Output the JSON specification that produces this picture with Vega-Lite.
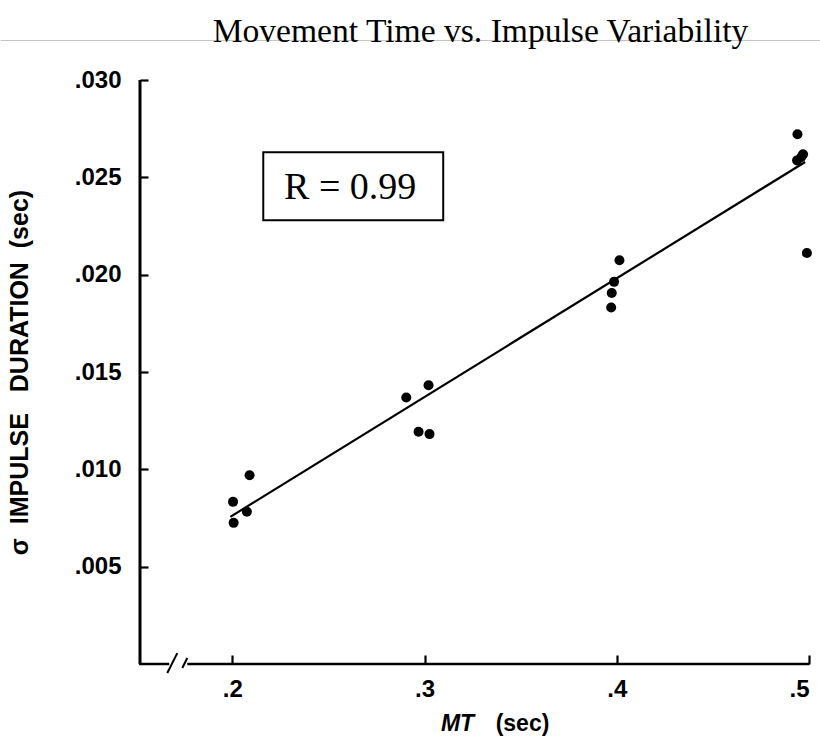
{
  "$schema": "https://vega.github.io/schema/vega-lite/v6.json",
  "width": 669,
  "height": 584,
  "autosize": "none",
  "padding": {"left": 140, "top": 80, "right": 11, "bottom": 72},
  "background": "white",
  "config": {"view": {"stroke": null}},
  "title": {"text": "Movement Time vs. Impulse Variability", "font": "Liberation Serif", "fontSize": 33.6, "fontWeight": "normal", "color": "#000000", "anchor": "middle", "frame": "group", "dx": 6, "dy": 35, "offset": -1, "baseline": "alphabetic"},
  "resolve": {"axis": {"x": "independent"}},
  "datasets": {
    "points": [
      {"mt": 0.2007, "sd": 0.00725},
      {"mt": 0.2004, "sd": 0.00833},
      {"mt": 0.2076, "sd": 0.00782},
      {"mt": 0.2090, "sd": 0.00970},
      {"mt": 0.2905, "sd": 0.01369},
      {"mt": 0.3021, "sd": 0.01432},
      {"mt": 0.2969, "sd": 0.01193},
      {"mt": 0.3026, "sd": 0.01181},
      {"mt": 0.3971, "sd": 0.01831},
      {"mt": 0.3974, "sd": 0.01906},
      {"mt": 0.3986, "sd": 0.01963},
      {"mt": 0.4014, "sd": 0.02074},
      {"mt": 0.4940, "sd": 0.02721},
      {"mt": 0.4969, "sd": 0.02618},
      {"mt": 0.4938, "sd": 0.02587},
      {"mt": 0.4959, "sd": 0.02603},
      {"mt": 0.4989, "sd": 0.02111}
    ],
    "fit": [
      {"mt": 0.199, "sd": 0.00756},
      {"mt": 0.498, "sd": 0.02579}
    ],
    "one": [{"k": 1}]
  },
  "layer": [
    {
      "data": {"name": "one"},
      "mark": {"type": "rule", "color": "#c4c4c4", "strokeWidth": 1},
      "encoding": {
        "x": {"datum": 0.0795, "type": "quantitative", "axis": null},
        "x2": {"datum": 0.5057},
        "y": {"datum": 0.03203, "type": "quantitative"}
      }
    },
    {
      "data": {"name": "points"},
      "mark": {"type": "circle", "size": 100, "color": "#000000", "opacity": 1},
      "encoding": {
        "x": {"field": "mt", "type": "quantitative", "scale": {"domain": [0.152, 0.5], "nice": false, "zero": false},
          "axis": {"orient": "bottom", "offset": -9, "values": [0.2, 0.3, 0.4, 0.5], "labelExpr": "substring(format(datum.value, '.1f'), 1)", "domain": false, "grid": false,
            "tickColor": "#000000", "tickWidth": 2.2, "tickSize": 9, "labelPadding": 13, "labelFont": "Liberation Sans", "labelFontWeight": "bold", "labelFontSize": 24, "labelColor": "#000000",
            "title": "(sec)", "titleFont": "Liberation Sans", "titleFontWeight": "bold", "titleFontSize": 23, "titleColor": "#000000", "titleX": 382, "titleY": 75, "titleBaseline": "alphabetic", "titleAlign": "center"}},
        "y": {"field": "sd", "type": "quantitative", "scale": {"domain": [0, 0.03], "nice": false, "zero": false},
          "axis": {"offset": -8, "values": [0.005, 0.01, 0.015, 0.02, 0.025, 0.03], "labelExpr": "substring(format(datum.value, '.3f'), 1)", "domain": false, "grid": false,
            "tickColor": "#000000", "tickWidth": 2.2, "tickSize": 8, "labelPadding": 19, "labelFont": "Liberation Sans", "labelFontWeight": "bold", "labelFontSize": 24, "labelColor": "#000000",
            "title": "σ\u00a0\u00a0IMPULSE\u00a0\u00a0\u00a0DURATION\u00a0\u00a0(sec)", "titleFont": "Liberation Sans", "titleFontWeight": "bold", "titleFontSize": 25, "titleColor": "#000000", "titlePadding": 42}}
      }
    },
    {
      "data": {"name": "fit"},
      "mark": {"type": "line", "color": "#000000", "strokeWidth": 2.2},
      "encoding": {
        "x": {"field": "mt", "type": "quantitative",
          "axis": {"orient": "bottom", "labels": false, "ticks": false, "domain": false, "grid": false,
            "title": "MT", "titleFont": "Liberation Sans", "titleFontWeight": "bold", "titleFontStyle": "italic", "titleFontSize": 23, "titleColor": "#000000", "titleX": 317, "titleY": 66, "titleBaseline": "alphabetic", "titleAlign": "center"}},
        "y": {"field": "sd", "type": "quantitative"}
      }
    },
    {
      "data": {"name": "one"},
      "mark": {"type": "rule", "color": "#000000", "strokeWidth": 3},
      "encoding": {
        "x": {"datum": 0.152, "type": "quantitative", "axis": null},
        "y": {"datum": 0, "type": "quantitative"},
        "y2": {"datum": 0.03}
      }
    },
    {
      "data": {"name": "one"},
      "mark": {"type": "rule", "color": "#000000", "strokeWidth": 2.5},
      "encoding": {
        "x": {"datum": 0.1515, "type": "quantitative", "axis": null},
        "x2": {"datum": 0.1672},
        "y": {"datum": 0, "type": "quantitative"}
      }
    },
    {
      "data": {"name": "one"},
      "mark": {"type": "rule", "color": "#000000", "strokeWidth": 2.5},
      "encoding": {
        "x": {"datum": 0.1766, "type": "quantitative", "axis": null},
        "x2": {"datum": 0.5001},
        "y": {"datum": 0, "type": "quantitative"}
      }
    },
    {
      "data": {"name": "one"},
      "mark": {"type": "rule", "color": "#000000", "strokeWidth": 2},
      "encoding": {
        "x": {"datum": 0.16619, "type": "quantitative", "axis": null},
        "x2": {"datum": 0.17139},
        "y": {"datum": -0.00046, "type": "quantitative"},
        "y2": {"datum": 0.00056}
      }
    },
    {
      "data": {"name": "one"},
      "mark": {"type": "rule", "color": "#000000", "strokeWidth": 2},
      "encoding": {
        "x": {"datum": 0.1740, "type": "quantitative", "axis": null},
        "x2": {"datum": 0.1766},
        "y": {"datum": -0.000205, "type": "quantitative"},
        "y2": {"datum": 0.000308}
      }
    },
    {
      "data": {"name": "one"},
      "mark": {"type": "rect", "fill": "#ffffff", "stroke": "#000000", "strokeWidth": 2},
      "encoding": {
        "x": {"datum": 0.21612, "type": "quantitative", "axis": null},
        "x2": {"datum": 0.30973},
        "y": {"datum": 0.026283, "type": "quantitative"},
        "y2": {"datum": 0.022793}
      }
    },
    {
      "data": {"name": "one"},
      "mark": {"type": "text", "text": "R = 0.99", "font": "Liberation Serif", "fontSize": 38, "color": "#000000", "align": "center", "baseline": "alphabetic"},
      "encoding": {
        "x": {"datum": 0.26136, "type": "quantitative", "axis": null},
        "y": {"datum": 0.02387, "type": "quantitative"}
      }
    }
  ]
}
